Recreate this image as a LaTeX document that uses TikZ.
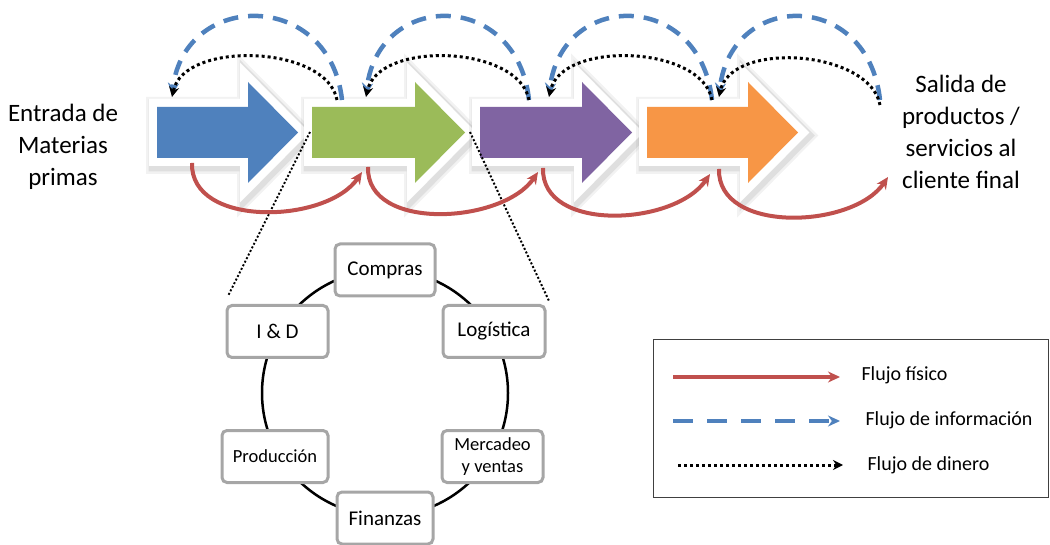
\documentclass[tikz,border=0pt]{standalone}
\usepackage{fontspec}
\setmainfont{Carlito}
\usetikzlibrary{arrows.meta}

\definecolor{cBlue}{HTML}{4F81BD}
\definecolor{cGreen}{HTML}{9BBB59}
\definecolor{cPurple}{HTML}{8064A2}
\definecolor{cOrange}{HTML}{F79646}
\definecolor{cRed}{HTML}{C0504D}
\definecolor{cBox}{HTML}{A6A6A6}

% Block arrow: fill colour, tail x, head base x, tip x
\newcommand{\blockarrow}[4]{%
  \draw[arrowshadow, line width=26pt, draw opacity=0.05, shift={(2,3)}]
    (#2,107) -- (#3,107) -- (#3,82) -- (#4,132.5) -- (#3,183) -- (#3,158) -- (#2,158) -- cycle;
  \draw[arrowshadow, line width=21pt, draw opacity=0.08, shift={(2,3)}]
    (#2,107) -- (#3,107) -- (#3,82) -- (#4,132.5) -- (#3,183) -- (#3,158) -- (#2,158) -- cycle;
  \draw[arrowhalo, fill=#1]
    (#2,107) -- (#3,107) -- (#3,82) -- (#4,132.5) -- (#3,183) -- (#3,158) -- (#2,158) -- cycle;
  \fill[#1]
    (#2,107) -- (#3,107) -- (#3,82) -- (#4,132.5) -- (#3,183) -- (#3,158) -- (#2,158) -- cycle;
}

\begin{document}
\begin{tikzpicture}[x=1pt,y=-1pt,
  arrowshadow/.style={draw=black, line join=miter},
  arrowhalo/.style={draw=white, line width=16pt, line join=miter},
  physflow/.style={draw=cRed, line width=4pt, -{Stealth[length=12pt,width=11pt]}},
  infoflow/.style={draw=cBlue, line width=4.5pt, dash pattern=on 15pt off 10pt,
                   -{Stealth[length=12pt,width=11pt]}},
  cashflow/.style={draw=black, line width=3pt, dash pattern=on 3pt off 3pt,
                   -{Stealth[length=10pt,width=10pt]}},
  zoomline/.style={draw=black, line width=2pt, dash pattern=on 2pt off 2pt},
  areabox/.style={draw=cBox, line width=3pt, rounded corners=5pt, fill=white,
                  inner sep=0pt, align=center, minimum height=52pt},
  sidelabel/.style={align=center, font=\fontsize{25}{32}\selectfont},
  legendtext/.style={anchor=west, font=\fontsize{20}{24}\selectfont}]

\useasboundingbox (0,0) rectangle (1050,545);

% ---- value chain block arrows ----
\blockarrow{cBlue}{157}{248}{298}
\blockarrow{cGreen}{312}{415}{465}
\blockarrow{cPurple}{480}{582}{632}
\blockarrow{cOrange}{647}{748}{798}

% ---- attachment points on the arrows ----
\coordinate (a1-in)  at (172,95);
\coordinate (a1-bot) at (192,163);
\coordinate (a2-out) at (342,100);
\coordinate (a2-dout) at (337,100);
\coordinate (a2-in)  at (366,95);
\coordinate (a2-bin) at (362,172);
\coordinate (a2-bot) at (368,167);
\coordinate (a3-out) at (529,100);
\coordinate (a3-in)  at (549,95);
\coordinate (a3-bin) at (538,172);
\coordinate (a3-bot) at (543,168);
\coordinate (a4-out) at (712,100);
\coordinate (a4-in)  at (719,95);
\coordinate (a4-bin) at (710,174);
\coordinate (a4-bot) at (719,169);
\coordinate (end-out) at (880,100);
\coordinate (end-bin) at (888,177);

% ---- zoom lines to the functional ring ----
\coordinate (z1) at (310,132);
\coordinate (z2) at (470,132);
\coordinate (z1e) at (228,296);
\coordinate (z2e) at (549,301);
\draw[zoomline] (z1) -- (z1e);
\draw[zoomline] (z2) -- (z2e);

% ---- physical flow (below) ----
\draw[physflow] (a1-bot) .. controls +(-2,65) and +(-35,52) .. (a2-bin);
\draw[physflow] (a2-bot) .. controls +(-2,65) and +(-35,52) .. (a3-bin);
\draw[physflow] (a3-bot) .. controls +(-2,65) and +(-35,52) .. (a4-bin);
\draw[physflow] (a4-bot) .. controls +(-2,65) and +(-35,52) .. (end-bin);

% ---- information flow (above, dashed) ----
\draw[infoflow] (a2-out) .. controls +(-12,-110) and +(13,-105) .. (a1-in);
\draw[infoflow] (a3-out) .. controls +(-12,-110) and +(13,-105) .. (a2-in);
\draw[infoflow] (a4-out) .. controls +(-12,-110) and +(13,-105) .. (a3-in);
\draw[infoflow] (end-out) .. controls +(-12,-110) and +(13,-105) .. (a4-in);

% ---- money flow (above, dotted) ----
\draw[cashflow] (a2-dout) .. controls +(-10,-55) and +(12,-57) .. ([yshift=-2pt]a1-in);
\draw[cashflow] (a3-out) .. controls +(-10,-55) and +(12,-57) .. ([yshift=-2pt]a2-in);
\draw[cashflow] (a4-out) .. controls +(-10,-55) and +(12,-57) .. ([yshift=-2pt]a3-in);
\draw[cashflow] ([yshift=-5pt]end-out) .. controls +(-10,-55) and +(12,-57) .. ([yshift=-2pt]a4-in);

% ---- side labels ----
\node[sidelabel] (input)  at (63,147)  {Entrada de\\Materias\\primas};
\node[sidelabel] (output) at (961,132) {Salida de\\productos /\\servicios al\\cliente final};

% ---- functional ring ----
\coordinate (ringc) at (385,393);
\draw[black, line width=2.5pt] (ringc) circle[radius=123pt];
\node[areabox, minimum width=100pt, font=\fontsize{21}{24}\selectfont] (compras)    at (385,270)   {Compras};
\node[areabox, minimum width=101pt, font=\fontsize{21}{24}\selectfont] (iyd)        at (277.5,331.5) {I \& D};
\node[areabox, minimum width=102pt, font=\fontsize{21}{24}\selectfont] (logistica)  at (494,331.5) {Logística};
\node[areabox, minimum width=106pt, font=\fontsize{18.5}{22}\selectfont] (produccion) at (275,456.5) {Producción};
\node[areabox, minimum width=101pt, font=\fontsize{18.5}{22}\selectfont] (mercadeo)   at (492.5,456.5) {Mercadeo\\y ventas};
\node[areabox, minimum width=96pt, font=\fontsize{21}{24}\selectfont] (finanzas)   at (385,518)   {Finanzas};

% ---- legend ----
\draw[draw=black!75, line width=1pt] (653,340) rectangle (1048,497);
\coordinate (lg1a) at (673,377);  \coordinate (lg1b) at (840,377);
\coordinate (lg2a) at (673,421);  \coordinate (lg2b) at (840,421);
\coordinate (lg3a) at (678,465);  \coordinate (lg3b) at (843,465);
\draw[physflow] (lg1a) -- (lg1b);
\draw[infoflow, dash pattern=on 20pt off 14pt] (lg2a) -- (lg2b);
\draw[cashflow] (lg3a) -- (lg3b);
\node[legendtext] (lgt1) at (858,375) {Flujo físico};
\node[legendtext] (lgt2) at (862,420) {Flujo de información};
\node[legendtext] (lgt3) at (864,465) {Flujo de dinero};

\end{tikzpicture}
\end{document}
